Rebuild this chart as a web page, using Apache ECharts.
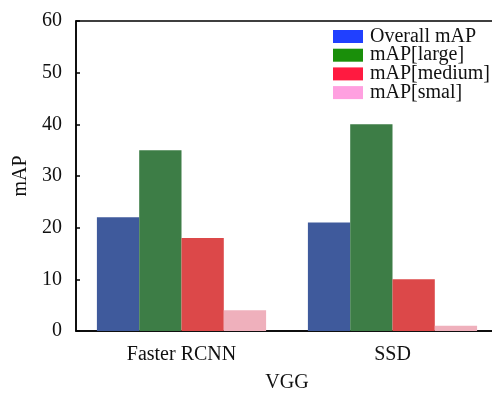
<!DOCTYPE html>
<html><head><meta charset="utf-8">
<script src="https://cdn.jsdelivr.net/npm/echarts@6/dist/echarts.min.js"></script>
<style>html,body{margin:0;padding:0;background:#fff}#c{width:492px;height:393px}</style>
</head><body><div id="c"></div>
<script>
const categories = ['Faster RCNN', 'SSD'];
const seriesNames = ['Overall mAP', 'mAP[large]', 'mAP[medium]', 'mAP[smal]'];
const overall = [22, 21];
const large = [35, 40];
const medium = [18, 10];
const small = [4, 1];
const barColors = ['#3f5a9c', '#3d7d46', '#dc4849', '#efb0bc'];
const legendColors = ['#2040ff', '#1a8f0a', '#ff1a40', '#ffa0e0'];
const yTicks = [0, 10, 20, 30, 40, 50, 60];

const font = 'Liberation Serif';
const chart = echarts.init(document.getElementById('c'));
const values = [overall, large, medium, small];
chart.setOption({
  animation: false,
  grid: {left: 76, top: 21, width: 422, height: 310, outerBoundsMode: 'none', containLabel: false,
    show: true, borderColor: '#000', borderWidth: 1.5, backgroundColor: 'transparent'},
  legend: {
    left: 333, top: 26.5, padding: 0, orient: 'vertical', itemWidth: 30, itemHeight: 13, itemGap: -1.3,
    textStyle: {fontFamily: font, fontSize: 20, lineHeight: 18.7, color: '#111', padding: [0, 0, 0, 2]},
    data: seriesNames.map((n, i) => ({name: n, icon: 'rect', itemStyle: {color: legendColors[i]}}))
  },
  xAxis: {
    type: 'category', data: categories,
    name: 'VGG', nameLocation: 'middle', nameGap: 42,
    nameTextStyle: {fontFamily: font, fontSize: 20, color: '#111'},
    axisLine: {lineStyle: {color: '#000', width: 1.5}},
    axisTick: {inside: true, alignWithLabel: true, length: 4, lineStyle: {color: '#000', width: 1.5}},
    axisLabel: {fontFamily: font, fontSize: 20, color: '#111', margin: 14},
  },
  yAxis: {
    type: 'value', min: 0, max: 60, interval: 10,
    name: 'mAP', nameLocation: 'middle', nameGap: 44,
    nameTextStyle: {fontFamily: font, fontSize: 20, color: '#111'},
    axisLine: {show: true, lineStyle: {color: '#000', width: 1.5}},
    axisTick: {show: true, inside: true, length: 4, lineStyle: {color: '#000', width: 1.5}},
    axisLabel: {fontFamily: font, fontSize: 20, color: '#111', margin: 14,
      formatter: v => yTicks.includes(v) ? String(v) : ''},
    splitLine: {show: false}
  },
  series: seriesNames.map((n, i) => ({
    name: n, type: 'bar', data: values[i], barWidth: 42.3, barGap: '0%',
    itemStyle: {color: barColors[i]}
  }))
});
</script></body></html>
